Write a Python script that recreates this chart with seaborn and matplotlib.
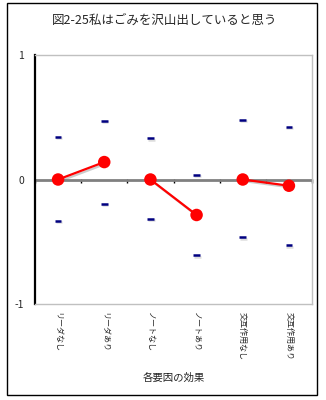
import numpy as np
import pandas as pd
import matplotlib
matplotlib.use("Agg")
import matplotlib.pyplot as plt
import matplotlib.patheffects as pe
from matplotlib.patches import Rectangle
import seaborn as sns

# Effect of each factor level, with upper/lower interval bounds
categories = ["リーダなし", "リーダあり", "ノートなし", "ノートあり", "交互作用なし", "交互作用あり"]
factor = ["リーダ", "リーダ", "ノート", "ノート", "交互作用", "交互作用"]
effect = [0.0, 0.14, 0.0, -0.285, 0.0, -0.05]
upper = [0.34, 0.47, 0.33, 0.04, 0.475, 0.42]
lower = [-0.33, -0.195, -0.32, -0.61, -0.465, -0.53]

title = "図2-25私はごみを沢山出していると思う"
xlabel = "各要因の効果"
yticks = [-1, 0, 1]

sns.set_theme(style="white")
plt.rcParams["font.family"] = ["Noto Sans CJK JP", "DejaVu Sans"]

df = pd.DataFrame({
    "pos": np.arange(len(categories)),
    "category": categories,
    "factor": factor,
    "effect": effect,
})
bounds = pd.DataFrame({
    "pos": np.concatenate([df["pos"], df["pos"]]),
    "bound": upper + lower,
})

fig = plt.figure(figsize=(3.26, 4.0), dpi=100)
fig.patch.set_facecolor("white")
ax = fig.add_axes([35 / 326, 1 - 304 / 400, 277 / 326, 249 / 400])

shadow = [pe.SimpleLineShadow(offset=(1.2, -1.2), shadow_color="#808080", alpha=0.4), pe.Normal()]
dash_shadow = [pe.SimpleLineShadow(offset=(0.6, -0.8), shadow_color="#a0a0a0", alpha=0.35), pe.Normal()]

# interval bounds as short navy dashes
sns.scatterplot(data=bounds, x="pos", y="bound", marker="_", s=22, linewidth=1.8,
                color="#000080", ax=ax, zorder=4, legend=False)
for coll in ax.collections:
    coll.set_path_effects(dash_shadow)

# zero reference line with category-boundary ticks
ax.axhline(0, color="#808080", lw=2, zorder=2)
zero_axis = ax.secondary_xaxis(0.5)
for sp in zero_axis.spines.values():
    sp.set_visible(False)
zero_axis.set_xticks(np.arange(len(categories) + 1) - 0.5)
zero_axis.set_xticklabels([])
zero_axis.tick_params(axis="x", direction="in", length=3, width=1, color="black",
                      labelbottom=False, labeltop=False)

# effects, connected within each factor
sns.lineplot(data=df, x="pos", y="effect", units="factor", estimator=None, sort=False,
             color="#ff0000", lw=1.6, marker="o", markersize=9, markeredgewidth=0,
             ax=ax, zorder=5, legend=False)
for line in ax.lines[1:]:
    line.set_path_effects(shadow)

ax.set_xlim(-0.5, len(categories) - 0.5)
ax.set_ylim(-1, 1)
ax.set_xticks(df["pos"])
ax.set_xticklabels(categories, rotation=-90, va="top", ha="center", fontsize=5.8)
ax.set_yticks(yticks)
ax.set_yticklabels([str(v) for v in yticks], fontsize=7.5)
ax.tick_params(axis="x", length=0, pad=6)
ax.tick_params(axis="y", length=0, pad=8)
ax.set_xlabel("")
ax.set_ylabel("")

for side in ["top", "right", "bottom"]:
    ax.spines[side].set_color("#c0c0c0")
    ax.spines[side].set_linewidth(1)
ax.spines["left"].set_color("black")
ax.spines["left"].set_linewidth(1.6)

ax.text(0.5, -0.297, xlabel, transform=ax.transAxes, ha="center", va="center", fontsize=7.5)
fig.text(0.506, 0.95, title, ha="center", va="center", fontsize=9)

# chart border
fig.patches.append(Rectangle((7 / 326, 5 / 400), 310 / 326, 392 / 400, transform=fig.transFigure,
                             fill=False, edgecolor="black", lw=1))

fig.savefig("out.png", dpi=100, facecolor="white")
